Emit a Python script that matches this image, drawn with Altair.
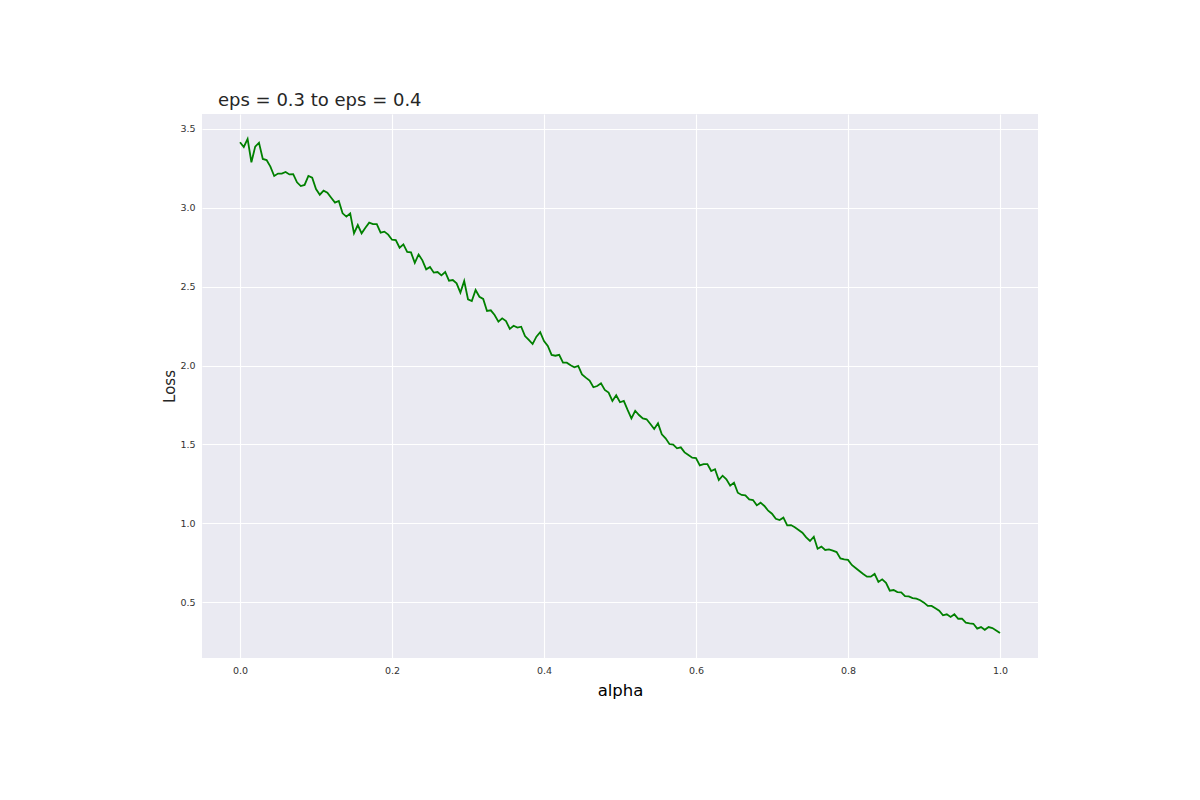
import altair as alt
import pandas as pd

loss = [
    3.416, 3.386, 3.437, 3.289, 3.388, 3.413, 3.310, 3.303, 3.261, 3.202,
    3.217, 3.217, 3.227, 3.212, 3.214, 3.162, 3.138, 3.145, 3.202, 3.191,
    3.119, 3.083, 3.109, 3.096, 3.064, 3.033, 3.043, 2.965, 2.944, 2.965,
    2.838, 2.891, 2.838, 2.874, 2.906, 2.897, 2.897, 2.842, 2.849, 2.830,
    2.798, 2.796, 2.747, 2.768, 2.720, 2.717, 2.651, 2.704, 2.667, 2.610,
    2.625, 2.589, 2.593, 2.572, 2.593, 2.538, 2.542, 2.521, 2.462, 2.536,
    2.420, 2.409, 2.479, 2.436, 2.422, 2.346, 2.350, 2.320, 2.278, 2.299,
    2.282, 2.232, 2.252, 2.240, 2.246, 2.187, 2.162, 2.136, 2.183, 2.211,
    2.155, 2.124, 2.067, 2.062, 2.068, 2.018, 2.018, 2.001, 1.989, 1.997,
    1.944, 1.923, 1.904, 1.862, 1.870, 1.887, 1.845, 1.828, 1.775, 1.811,
    1.767, 1.775, 1.718, 1.665, 1.713, 1.686, 1.665, 1.659, 1.629, 1.597,
    1.633, 1.564, 1.538, 1.502, 1.498, 1.475, 1.481, 1.449, 1.432, 1.415,
    1.413, 1.367, 1.375, 1.375, 1.331, 1.342, 1.274, 1.301, 1.278, 1.238,
    1.257, 1.193, 1.179, 1.177, 1.151, 1.147, 1.113, 1.130, 1.109, 1.079,
    1.060, 1.028, 1.020, 1.035, 0.986, 0.988, 0.974, 0.957, 0.940, 0.910,
    0.887, 0.914, 0.838, 0.851, 0.830, 0.834, 0.826, 0.817, 0.777, 0.771,
    0.767, 0.735, 0.716, 0.697, 0.678, 0.661, 0.661, 0.678, 0.627, 0.644,
    0.622, 0.572, 0.576, 0.563, 0.561, 0.538, 0.536, 0.525, 0.521, 0.511,
    0.496, 0.475, 0.475, 0.460, 0.445, 0.416, 0.422, 0.405, 0.422, 0.394,
    0.394, 0.369, 0.365, 0.362, 0.331, 0.341, 0.324, 0.341, 0.335, 0.320,
    0.303,
]
alpha_vals = [round(i * 0.005, 3) for i in range(len(loss))]

x_ticks = [0.0, 0.2, 0.4, 0.6, 0.8, 1.0]
y_ticks = [0.5, 1.0, 1.5, 2.0, 2.5, 3.0, 3.5]
title_text = "eps = 0.3 to eps = 0.4"

df = pd.DataFrame({"alpha": alpha_vals, "loss": loss})

FONT = "DejaVu Sans"

chart = alt.Chart(df).mark_line(color="#008000", strokeWidth=1.8).encode(
    x=alt.X(
        "alpha:Q",
        scale=alt.Scale(domain=[-0.05, 1.05], nice=False, zero=False),
        axis=alt.Axis(
            values=x_ticks, format=".1f", title="alpha",
            titleFontSize=16.5, titleColor="#000000", titleFontWeight="normal",
            titleBaseline="alphabetic", titleY=37, titleAnchor="middle",
            labelPadding=7,
        ),
    ),
    y=alt.Y(
        "loss:Q",
        scale=alt.Scale(domain=[0.145, 3.595], nice=False, zero=False),
        axis=alt.Axis(
            values=y_ticks, format=".1f", title="Loss",
            titleFontSize=15, titleColor="#262626", titleFontWeight="normal",
            titleBaseline="alphabetic", titleX=-28, titleY=272, titleAngle=-90,
            titleAlign="center", labelPadding=7,
        ),
    ),
).properties(
    width=836,
    height=544,
    title=alt.TitleParams(
        text=title_text, anchor="start", frame="group", fontSize=18, font=FONT,
        fontWeight="normal", color="#262626", dx=16, dy=18, offset=8,
        baseline="alphabetic",
    ),
    autosize=alt.AutoSizeParams(type="none"),
    padding={"left": 194, "top": 106, "right": 154, "bottom": 134},
).configure(
    background="white",
    font=FONT,
).configure_view(
    fill="#EAEAF2", stroke=None,
).configure_axis(
    domain=False, ticks=False, grid=True, gridColor="white", gridWidth=1.1,
    labelFont=FONT, labelFontSize=9.5, labelColor="#333333", titleFont=FONT,
)

chart.save("out.html", embed_options={"renderer": "svg", "actions": False})
